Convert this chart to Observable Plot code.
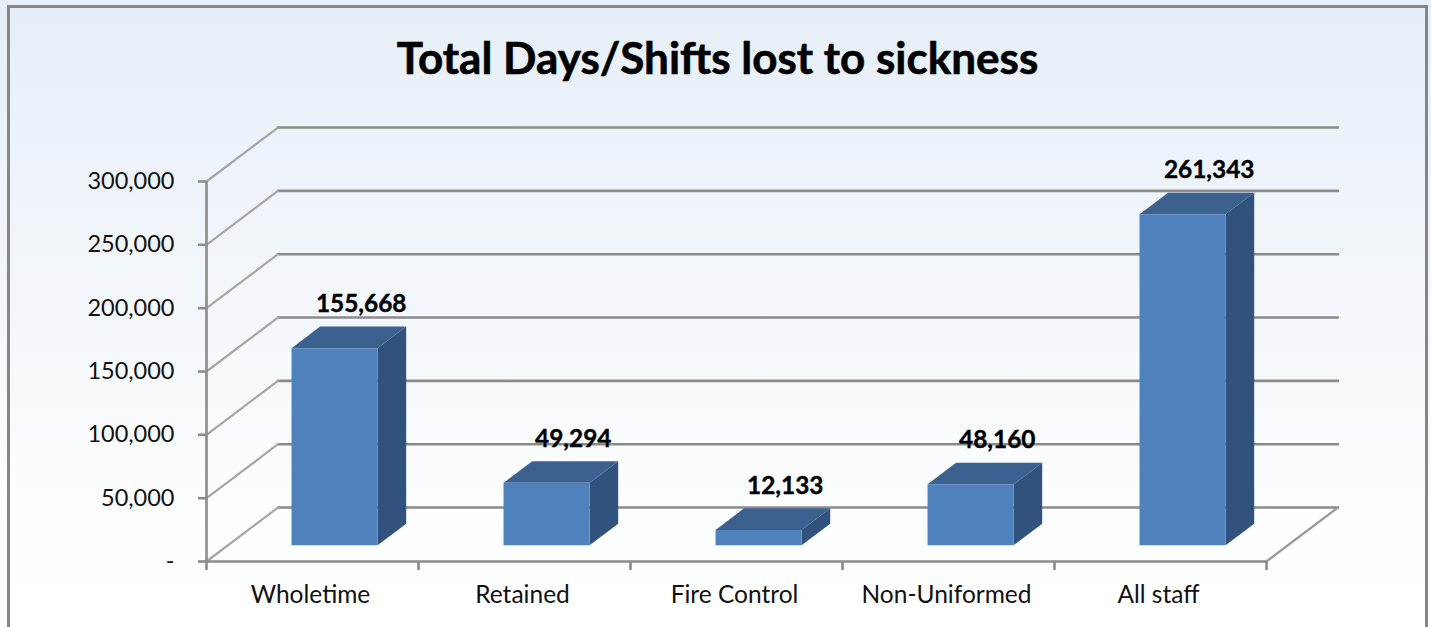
<!DOCTYPE html>
<html><head><meta charset="utf-8">
<script src="https://cdn.jsdelivr.net/npm/d3@7"></script>
<script src="https://cdn.jsdelivr.net/npm/@observablehq/plot@0.6"></script>
<style>
html,body{margin:0;padding:0;background:#fff;overflow:hidden}
#wrap{position:relative;width:1431px;height:627px;background:linear-gradient(#e6eef7 0,#fdfeff 85%,#fff 100%);overflow:hidden}
#frame{position:absolute;left:7px;top:5px;width:1421px;height:640px;border:3px solid #868686;box-sizing:border-box}
#title{position:absolute;left:0;width:1435px;top:32px;text-align:center;font:bold 44px Lato,sans-serif;color:#000;line-height:50px;-webkit-text-stroke:0.6px #000}
svg{position:absolute;left:0;top:0;background:transparent!important}
</style></head><body>
<div id="wrap"><div id="frame"></div><div id="title">Total Days/Shifts lost to sickness</div></div>
<script>
const categories = ["Wholetime","Retained","Fire Control","Non-Uniformed","All staff"];
const values = [155668,49294,12133,48160,261343];
const gridValues = [0,50000,100000,150000,200000,250000,300000];
const boundaries = [0,1,2,3,4,5];

// oblique projection of the 3D chart: depth d (0 front .. 1 back) shifts data coordinates
const DX = 0.337, DY = 42600;
const px = (c,d) => c + d*DX;
const py = (v,d) => v + d*DY;
const b0 = 0.3, b1 = 0.706, d0 = 0.3, d1 = 0.7;

const poly = (id, pts) => pts.map(([c,v,d]) => ({id, x:px(c,d), y:py(v,d)}));
const front=[], top_=[], side=[];
values.forEach((v,i)=>{
  const L=i+b0, R=i+b1;
  front.push(...poly(i,[[L,0,d0],[R,0,d0],[R,v,d0],[L,v,d0]]));
  top_.push(...poly(i,[[L,v,d0],[R,v,d0],[R,v,d1],[L,v,d1]]));
  side.push(...poly(i,[[R,0,d0],[R,0,d1],[R,v,d1],[R,v,d0]]));
});
const diag = gridValues.flatMap(v=>[{id:v,x:px(0,0),y:py(v,0)},{id:v,x:px(0,1),y:py(v,1)}]);
const backs = gridValues.flatMap(v=>[{id:v,x:px(0,1),y:py(v,1)},{id:v,x:px(5,1),y:py(v,1)}]);
const floorEdge = [{x:px(5,0),y:0},{x:px(5,1),y:py(0,1)}];
const fmt = d3.format(",");
const labels = values.map((v,i)=>({x:px(i+0.5,0.64), y:v, t:fmt(v)}));
const font = "Lato, sans-serif";

const chart = Plot.plot({
  width:1431, height:627,
  marginLeft:206, marginRight:165, marginTop:181, marginBottom:66,
  x:{domain:[0,5]}, y:{domain:[0,300000]},
  style:{background:"transparent", overflow:"visible"},
  marks:[
    Plot.line(backs,{x:"x",y:"y",z:"id",stroke:"#8b8b8b",strokeWidth:2.6}),
    Plot.line(diag,{x:"x",y:"y",z:"id",stroke:"#a6a6a6",strokeWidth:2.2}),
    Plot.line(floorEdge,{x:"x",y:"y",stroke:"#9c9c9c",strokeWidth:2.4}),
    Plot.ruleX([0],{y1:0,y2:300000,stroke:"#8b8b8b",strokeWidth:2.6}),
    Plot.ruleY([0],{x1:0,x2:5,stroke:"#8b8b8b",strokeWidth:2.6}),
    Plot.line(side,{x:"x",y:"y",z:"id",fill:"#31527c",stroke:"none"}),
    Plot.line(top_,{x:"x",y:"y",z:"id",fill:"#3c618f",stroke:"none"}),
    Plot.line(front,{x:"x",y:"y",z:"id",fill:"#4f81bd",stroke:"none"}),
    Plot.axisY({ticks:gridValues,tickSize:8,tickPadding:24,stroke:"#8b8b8b",strokeWidth:2.6,fontSize:23.5,
      fontFamily:font,fill:"#111",label:null,
      tickFormat:d=>d===0?"-":fmt(d)}),
    Plot.axisX({ticks:boundaries,tickSize:9,stroke:"#8b8b8b",strokeWidth:2.6,label:null,tickFormat:()=>""}),
    Plot.text(categories,{x:(d,i)=>i+0.5,y:0,dy:34,dx:-2,text:d=>d,fontSize:24.5,fontFamily:font,fill:"#111"}),
    Plot.text(labels,{x:"x",y:"y",text:"t",dy:-60,dx:3,fontSize:24.4,fontWeight:"bold",fontFamily:font,fill:"#000",stroke:"#000",strokeWidth:0.4})
  ]
});
document.getElementById("wrap").appendChild(chart);
</script></body></html>
